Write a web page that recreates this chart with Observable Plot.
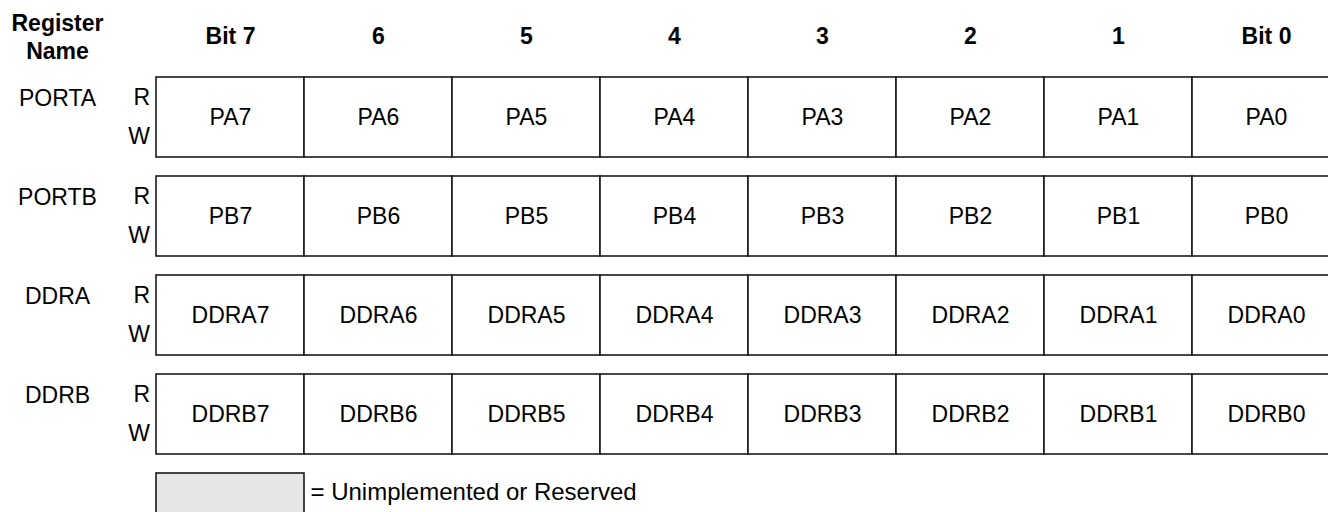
<!DOCTYPE html>
<html>
<head>
<meta charset="utf-8">
<script src="https://cdn.jsdelivr.net/npm/d3@7"></script>
<script src="https://cdn.jsdelivr.net/npm/@observablehq/plot@0.6"></script>
<style>
  html, body { margin: 0; padding: 0; background: white; overflow: hidden; }
</style>
</head>
<body>
<div id="chart"></div>
<script>
const headerName = "Register\nName";
const bits = ["7", "6", "5", "4", "3", "2", "1", "0"];
const bitLabels = ["Bit 7", "6", "5", "4", "3", "2", "1", "Bit 0"];
const registers = ["PORTA", "PORTB", "DDRA", "DDRB"];
const fieldsPORTA = ["PA7", "PA6", "PA5", "PA4", "PA3", "PA2", "PA1", "PA0"];
const fieldsPORTB = ["PB7", "PB6", "PB5", "PB4", "PB3", "PB2", "PB1", "PB0"];
const fieldsDDRA = ["DDRA7", "DDRA6", "DDRA5", "DDRA4", "DDRA3", "DDRA2", "DDRA1", "DDRA0"];
const fieldsDDRB = ["DDRB7", "DDRB6", "DDRB5", "DDRB4", "DDRB3", "DDRB2", "DDRB1", "DDRB0"];
const rwLabels = ["R", "W"];
const legendKey = "legend";
const legendBit = "7";
const legendText = "= Unimplemented or Reserved";

const fieldRows = [fieldsPORTA, fieldsPORTB, fieldsDDRA, fieldsDDRB];
const cells = [];
registers.forEach((reg, r) => {
  bits.forEach((b, i) => cells.push({reg, bit: b, name: fieldRows[r][i]}));
});

const font = "Liberation Sans, Arial, Helvetica, sans-serif";
const fs = 23;

const chart = Plot.plot({
  width: 1328,
  height: 512,
  margin: 0,
  style: {fontFamily: font, fontSize: fs + "px", background: "white", color: "black"},
  x: {type: "band", domain: bits, range: [154, 1341.5], padding: 0, axis: null},
  y: {type: "band", domain: [...registers, legendKey], range: [77, 553], paddingInner: 19 / 99, paddingOuter: 0, axis: null},
  marks: [
    Plot.cell(cells, {x: "bit", y: "reg", fill: "white", stroke: "#1a1a1a", strokeWidth: 1.6, inset: 0}),
    Plot.text(cells, {x: "bit", y: "reg", text: "name", fontSize: fs, fill: "black"}),
    Plot.text(bits, {x: d => d, text: (d, i) => bitLabels[i], frameAnchor: "top", lineAnchor: "middle", dy: 36.6, fontSize: fs, fontWeight: "bold", fill: "black"}),
    Plot.text([headerName], {text: d => d, frameAnchor: "top-left", lineAnchor: "middle", dx: 57, dy: 35.6, textAnchor: "middle", lineHeight: 1.22, fontSize: fs, fontWeight: "bold", fill: "black"}),
    Plot.text(registers, {y: d => d, text: d => d, frameAnchor: "left", dx: 57, dy: -18.4, textAnchor: "middle", fontSize: fs, fill: "black"}),
    Plot.text(registers, {y: d => d, text: () => rwLabels[0], frameAnchor: "left", dx: 149.5, dy: -20, textAnchor: "end", fontSize: fs, fill: "black"}),
    Plot.text(registers, {y: d => d, text: () => rwLabels[1], frameAnchor: "left", dx: 149.5, dy: 19.6, textAnchor: "end", fontSize: fs, fill: "black"}),
    Plot.cell([legendKey], {x: () => legendBit, y: d => d, fill: "#e6e6e6", stroke: "#1a1a1a", strokeWidth: 1.6, inset: 0}),
    Plot.text([legendKey], {y: d => d, text: () => legendText, frameAnchor: "left", dx: 310, dy: -20.7, textAnchor: "start", fontSize: 24, fill: "black"})
  ]
});
document.getElementById("chart").appendChild(chart);
</script>
</body>
</html>
